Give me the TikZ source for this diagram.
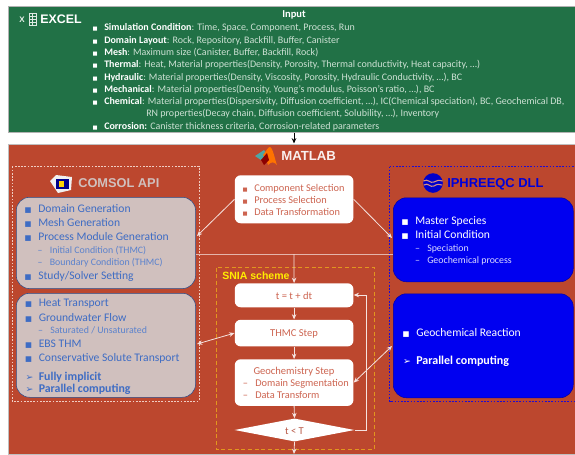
\documentclass[tikz,border=0pt]{standalone}
\usepackage{fontspec}
\setmainfont{Carlito}
\newfontfamily\symf{DejaVu Sans}
\newfontfamily\headf{Liberation Sans}
\usetikzlibrary{arrows.meta,shapes.geometric}
\definecolor{xlgreen}{RGB}{33,113,70}
\definecolor{brick}{RGB}{188,71,46}
\definecolor{pale}{RGB}{208,192,190}
\definecolor{bluetxt}{RGB}{62,108,196}
\definecolor{purebl}{RGB}{0,0,240}
\definecolor{dashpk}{RGB}{240,205,195}
\definecolor{snia}{RGB}{226,150,30}
\definecolor{redtxt}{RGB}{205,100,80}
\definecolor{greentxt}{RGB}{205,225,212}
\newcommand{\bul}[1]{\llap{\textcolor{#1}{\symf\fontsize{5.5}{6}\selectfont ■}\hspace{5pt}}}
\newcommand{\smb}[1]{\llap{\textcolor{#1}{\symf\fontsize{4}{5}\selectfont ■}\hspace{5pt}}}
\newcommand{\arr}[1]{\llap{\textcolor{#1}{\symf\fontsize{7}{7}\selectfont ➢}\hspace{4pt}}}
\newcommand{\dsh}{\llap{–\hspace{5.5pt}}}
\tikzset{
 txt/.style={inner sep=0pt,anchor=base west},
 inp/.style={txt,text=greentxt,font=\fontsize{7.5}{9}\selectfont},
 grayl/.style={txt,text=bluetxt,font=\fontsize{8.7}{10}\selectfont},
 grays/.style={txt,text=bluetxt!85!white,font=\fontsize{7.4}{9}\selectfont},
 grayb/.style={txt,text=bluetxt,font=\fontsize{8.9}{10}\bfseries\selectfont},
 bluel/.style={txt,text=white,font=\fontsize{8.7}{10}\selectfont},
 blues/.style={txt,text=white!85!blue,font=\fontsize{7.4}{9}\selectfont},
 blueb/.style={txt,text=white,font=\fontsize{9}{10}\bfseries\selectfont},
 redl/.style={txt,text=redtxt,font=\fontsize{7.75}{9}\selectfont},
 head/.style={inner sep=0pt,anchor=base west,font=\headf\bfseries\fontsize{9}{10}\selectfont},
 panel/.style={rounded corners=10pt,draw=#1!70!black,line width=.4pt},
 whitebox/.style={fill=white,rounded corners=4.5pt,minimum width=89pt,inner sep=0pt},
 link/.style={draw=white!85!brick,line width=.6pt},
 tip/.style={-{Stealth[length=4pt,width=3.4pt]}},
 tips/.style={{Stealth[length=4pt,width=3.4pt]}-{Stealth[length=4pt,width=3.4pt]}},
 thindash/.style={line width=.4pt,dash pattern=on 1.3pt off 1.1pt},
}
\begin{document}
\begin{tikzpicture}[x=0.75pt,y=-0.75pt]
\useasboundingbox (0,0) rectangle (575,454);
% backgrounds
\fill[white] (0,0) rectangle (575,454);
\node[fill=xlgreen,draw=gray!60,line width=.5pt,inner sep=0pt,anchor=north west,minimum width=425.5pt,minimum height=94.5pt] (inputbox) at (7.5,6) {};
\node[fill=brick,draw=gray!50,line width=.6pt,inner sep=0pt,anchor=north west,minimum width=425.5pt,minimum height=233pt] (matlabbox) at (7.5,143.5) {};
% Excel header
\node[head,text=white!90!xlgreen,font=\headf\bfseries\fontsize{6}{7}\selectfont] (xmark) at (19,22) {X};
\foreach \yy in {13,16,19,22,25}{\draw[white!85!xlgreen,line width=.5pt] (29,\yy)--(36,\yy);}
\draw[white!85!xlgreen,line width=.5pt] (29,13) rectangle (36,25) (32.5,13)--(32.5,25);
\node[head,text=white,font=\headf\bfseries\fontsize{9.3}{10}\selectfont] (excel) at (40,23) {EXCEL};
\node[txt,text=white,font=\fontsize{7.9}{9}\bfseries\selectfont,anchor=base] (input) at (294,17.5) {Input};
% Input lines
\node[inp] (i1) at (104,30) {\smb{white}\textcolor{white}{\textbf{Simulation Condition}}: Time, Space, Component, Process, Run};
\node[inp] (i2) at (104,43) {\smb{white}\textcolor{white}{\textbf{Domain Layout}}: Rock, Repository, Backfill, Buffer, Canister};
\node[inp] (i3) at (104,55) {\smb{white}\textcolor{white}{\textbf{Mesh}}: Maximum size (Canister, Buffer, Backfill, Rock)};
\node[inp] (i4) at (104,67) {\smb{white}\textcolor{white}{\textbf{Thermal}}: Heat, Material properties(Density, Porosity, Thermal conductivity, Heat capacity, …)};
\node[inp] (i5) at (104,80) {\smb{white}\textcolor{white}{\textbf{Hydraulic}}: Material properties(Density, Viscosity, Porosity, Hydraulic Conductivity, …), BC};
\node[inp] (i6) at (104,92) {\smb{white}\textcolor{white}{\textbf{Mechanical}}: Material properties(Density, Young’s modulus, Poisson’s ratio, …), BC};
\node[inp] (i7) at (104,104) {\smb{white}\textcolor{white}{\textbf{Chemical}}: Material properties(Dispersivity, Diffusion coefficient, …), IC(Chemical speciation), BC, Geochemical DB,};
\node[inp] (i8) at (146,116) {RN properties(Decay chain, Diffusion coefficient, Solubility, …), Inventory};
\node[inp] (i9) at (104,129) {\smb{white}\textcolor{white}{\textbf{Corrosion:}} Canister thickness criteria, Corrosion-related parameters};
% MATLAB header
\fill[teal!70!white] (255,156) -- (264,150) -- (267,154) -- (261,160) -- cycle;
\fill[orange!90!red] (263,155) .. controls (267,150) and (268,147) .. (270,147) .. controls (273,148) and (275,160) .. (277,165) .. controls (274,162) and (272,161) .. (268,165) .. controls (267,162) and (266,158) .. (263,155) -- cycle;
\fill[red!55!black] (261,160) -- (267,153) -- (269,160) -- (264,165) -- cycle;
\node[head,text=white!92!brick,font=\headf\bfseries\fontsize{9.9}{10}\selectfont] (matlabtitle) at (281,160) {MATLAB};
% COMSOL panel
\node[panel=bluetxt,fill=pale,inner sep=0pt,minimum width=134.5pt,minimum height=68.5pt,anchor=north west] (gray1) at (16,197) {};
\node[panel=bluetxt,fill=pale,inner sep=0pt,minimum width=134.5pt,minimum height=78pt,anchor=north west] (gray2) at (16,293) {};
\draw[dashpk,thindash] (12,166.5) rectangle (199,401);
\fill[white!88!gray] (50,181) -- (56,175) -- (72,177) -- (71,190) -- (58,193) -- cycle;
\fill[blue!55!black] (56,179) rectangle (69,189);
\fill[yellow!70!orange] (59,181) rectangle (64,187);
\node[head,text=pale,font=\headf\bfseries\fontsize{9.6}{10}\selectfont] (comsol) at (78,187) {COMSOL API};
\node[grayl] (a1) at (38,212.5) {\bul{bluetxt}Domain Generation};
\node[grayl] (a2) at (38,226.5) {\bul{bluetxt}Mesh Generation};
\node[grayl] (a3) at (38,240.5) {\bul{bluetxt}Process Module Generation};
\node[grays] (a4) at (49.5,253) {\dsh Initial Condition (THMC)};
\node[grays] (a5) at (49.5,265.5) {\dsh Boundary Condition (THMC)};
\node[grayl] (a6) at (38,279.5) {\bul{bluetxt}Study/Solver Setting};
\node[grayl] (b1) at (38.5,306.5) {\bul{bluetxt}Heat Transport};
\node[grayl] (b2) at (38.5,321.5) {\bul{bluetxt}Groundwater Flow};
\node[grays] (b3) at (50,333.5) {\dsh Saturated / Unsaturated};
\node[grayl] (b4) at (38.5,347.5) {\bul{bluetxt}EBS THM};
\node[grayl] (b5) at (38.5,361.5) {\bul{bluetxt}Conservative Solute Transport};
\node[grayb] (b6) at (38.5,380.5) {\arr{bluetxt}Fully implicit};
\node[grayb] (b7) at (38.5,392.5) {\arr{bluetxt}Parallel computing};
% IPHREEQC panel
\node[panel=purebl,fill=purebl,inner sep=0pt,minimum width=135pt,minimum height=63pt,anchor=north west] (blue1) at (393,197.5) {};
\node[panel=purebl,fill=purebl,inner sep=0pt,minimum width=135pt,minimum height=78pt,anchor=north west] (blue2) at (393,293.5) {};
\draw[purebl!85!brick,thindash] (389.5,166.5) -- (575,166.5) (389.5,166.5) -- (389.5,401.5) -- (575,401.5);
\fill[purebl!85!black] (433,183) circle (9.8);
\draw[brick!60!white,line width=.8pt] (423.5,181) .. controls (428,178) and (430,184) .. (434,182) .. controls (437,180) and (439,180) .. (442.5,181);
\draw[brick!60!white,line width=.8pt] (424,185) .. controls (428,182) and (430,188) .. (434,186) .. controls (437,184) and (439,184) .. (442,185);
\node[head,text=purebl!90!black,font=\headf\bfseries\fontsize{9.7}{10}\selectfont] (iph) at (447,187) {IPHREEQC DLL};
\node[bluel] (c1) at (415,224) {\bul{white}Master Species};
\node[bluel] (c2) at (415,238) {\bul{white}Initial Condition};
\node[blues] (c3) at (427,251) {\dsh Speciation};
\node[blues] (c4) at (427,263) {\dsh Geochemical process};
\node[bluel] (d1) at (416,336) {\bul{white}Geochemical Reaction};
\node[blueb] (d2) at (416,364.5) {\arr{white}Parallel computing};
% middle column
\node[whitebox,minimum height=36pt,anchor=north west] (mat) at (234.5,175) {};
\node[redl] (m1) at (254,191) {\smb{redtxt}Component Selection};
\node[redl] (m2) at (254,203) {\smb{redtxt}Process Selection};
\node[redl] (m3) at (254,215) {\smb{redtxt}Data Transformation};
\draw[snia,densely dashed,line width=.6pt] (216.5,267.5) rectangle (374,449.5);
\node[head,text=yellow!95!orange,font=\headf\bfseries\fontsize{7.9}{8}\selectfont] (sniat) at (222,279.5) {SNIA scheme};
\node[whitebox,minimum height=18pt,anchor=north west] (tstep) at (234.5,283) {};
\node[txt,anchor=base,text=redtxt,font=\fontsize{7.9}{9}\selectfont] (tstept) at (294,299) {t = t + dt};
\node[whitebox,minimum height=20pt,anchor=north west] (thmc) at (234.5,319.5) {};
\node[txt,anchor=base,text=redtxt,font=\fontsize{7.9}{9}\selectfont] (thmct) at (294,336) {THMC Step};
\node[whitebox,minimum height=35pt,anchor=north west] (geo) at (234.5,359) {};
\node[txt,anchor=base,text=redtxt,font=\fontsize{7.9}{9}\selectfont] (geot) at (294,374) {Geochemistry Step};
\node[redl] (g1) at (255,386) {\dsh Domain Segmentation};
\node[redl] (g2) at (255,398) {\dsh Data Transform};
\node[diamond,fill=white,inner sep=0pt,aspect=5.2,minimum width=90pt,minimum height=17.3pt] (dec) at (294.5,430) {};
\node[txt,anchor=base,text=redtxt!90!black,font=\fontsize{7.9}{9}\selectfont] (dect) at (294.5,434) {t < T};
% connectors
\coordinate (busL) at (gray1.east |- 0,254);
\coordinate (busR) at (blue1.west |- 0,254);
\coordinate (busM) at (294,254);
\coordinate (leftend) at (197,236);
\coordinate (rightend) at (392,238);
\coordinate (g2end) at (197,344);
\coordinate (b2end) at (392,346);
\coordinate (exitd) at (294,454);
\coordinate (turn1) at (366,430);
\coordinate (turn2) at (366,295);
\draw[link,white!60!brick] (busL) -- (busR);
\draw[link,tip] (mat.west) -- (leftend);
\draw[link,tip] (mat.east) -- (rightend);
\draw[link,tip] (busM) -- (tstep.north);
\draw[link,tip] (tstep.south) -- (thmc.north);
\draw[link,tip] (thmc.south) -- (geo.north);
\draw[link,tip] (geo.south) -- (dec.north);
\draw[link,tip] (dec.south) -- (exitd);
\draw[link,tips] (g2end) -- (thmc.west);
\draw[link,tips] (geo.east) -- (b2end);
\draw[link,tip] (dec.east) -- (turn1) -- (turn2) -- (tstep.east |- turn2);
\draw[black,line width=.6pt,tip] (inputbox.south -| 294,0) -- (matlabbox.north -| 294,0);
\end{tikzpicture}
\end{document}
